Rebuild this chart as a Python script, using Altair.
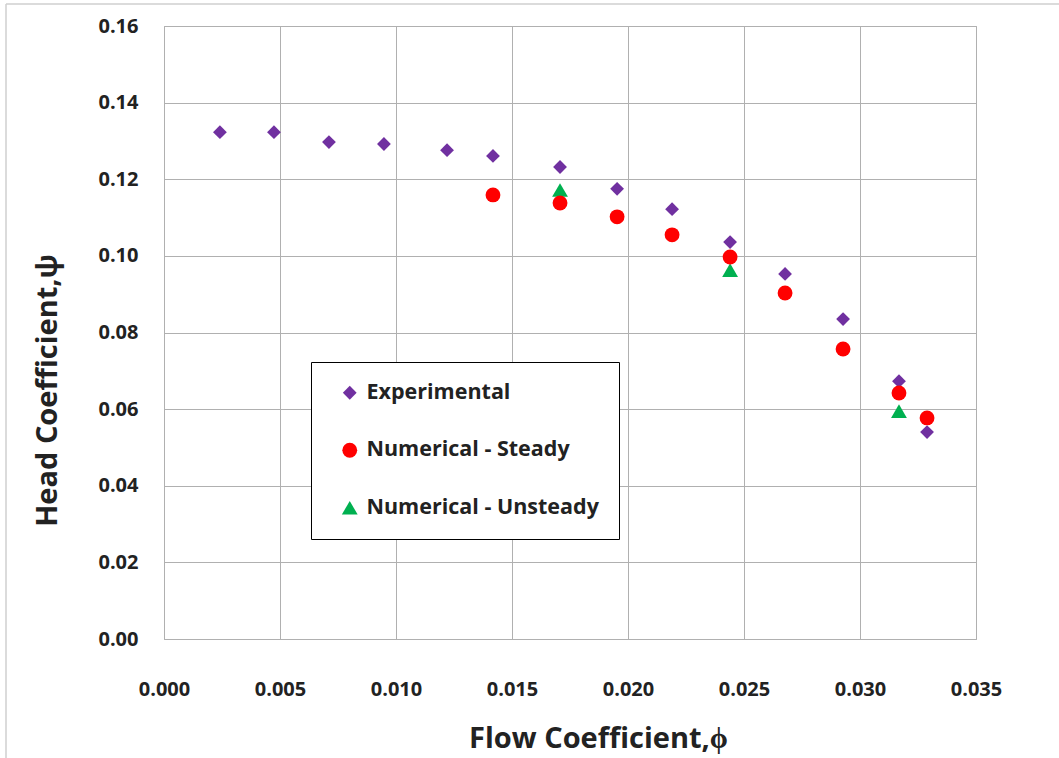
import altair as alt
import pandas as pd

# Experimental measurements
exp_phi = [0.00241, 0.00474, 0.00711, 0.00948, 0.0122, 0.01418, 0.01707,
           0.01953, 0.0219, 0.0244, 0.02677, 0.02927, 0.03168, 0.03289]
exp_psi = [0.1323, 0.1323, 0.1297, 0.1292, 0.1276, 0.1261, 0.1232,
           0.1175, 0.1122, 0.1036, 0.0953, 0.0835, 0.0673, 0.0540]

# Steady CFD results
steady_phi = [0.01418, 0.01707, 0.01953, 0.0219, 0.0244, 0.02677, 0.02927, 0.03168, 0.03289]
steady_psi = [0.1159, 0.1138, 0.1102, 0.1055, 0.0997, 0.0903, 0.0757, 0.0642, 0.0577]

# Unsteady CFD results
unsteady_phi = [0.01707, 0.0244, 0.03168]
unsteady_psi = [0.1172, 0.0963, 0.0595]

series = ["Experimental", "Numerical - Steady", "Numerical - Unsteady"]
colors = ["#7030A0", "#FF0000", "#00B050"]
shapes = ["diamond", "circle", "triangle-up"]
sizes = [190, 250, 230]

x_ticks = [0.000, 0.005, 0.010, 0.015, 0.020, 0.025, 0.030, 0.035]
y_ticks = [0.00, 0.02, 0.04, 0.06, 0.08, 0.10, 0.12, 0.14, 0.16]

# rows ordered so the steady circles are painted last
rows = (
    [{"phi": a, "psi": b, "series": series[0]} for a, b in zip(exp_phi, exp_psi)]
    + [{"phi": a, "psi": b, "series": series[2]} for a, b in zip(unsteady_phi, unsteady_psi)]
    + [{"phi": a, "psi": b, "series": series[1]} for a, b in zip(steady_phi, steady_psi)]
)
df = pd.DataFrame(rows)

FONT = "Open Sans"
TEXT = "#222222"
W, H = 812, 613

points = alt.Chart(df).mark_point(filled=True, opacity=1).encode(
    x=alt.X(
        "phi:Q",
        scale=alt.Scale(domain=[0, 0.035], nice=False, zero=False),
        axis=alt.Axis(
            values=x_ticks, format=".3f", title="Flow Coefficient,\u03d5",
            labelPadding=40, labelFlush=False, titleX=434, titleY=99,
            titleBaseline="middle",
        ),
    ),
    y=alt.Y(
        "psi:Q",
        scale=alt.Scale(domain=[0, 0.16], nice=False, zero=False),
        axis=alt.Axis(
            values=y_ticks, format=".2f", title="Head Coefficient,\u03c8",
            labelPadding=26, labelFlush=False, titleX=-117, titleY=364,
            titleBaseline="middle",
        ),
    ),
    color=alt.Color(
        "series:N",
        scale=alt.Scale(domain=series, range=colors),
        legend=alt.Legend(
            title=None, orient="none", legendX=147, legendY=336,
            padding=20, rowPadding=34.5, symbolOffset=8, labelOffset=6,
            strokeColor="#000000", fillColor="#ffffff",
            labelFont=FONT, labelFontSize=21.5, labelFontWeight="bold",
            labelColor=TEXT, symbolSize=110, labelLimit=400,
        ),
    ),
    shape=alt.Shape("series:N", scale=alt.Scale(domain=series, range=shapes)),
    size=alt.Size("series:N", scale=alt.Scale(domain=series, range=sizes), legend=None),
)

# light frame line along the top and left edges of the figure
frame = alt.Chart(pd.DataFrame({"k": [0]})).mark_rule(color="#cfcfcf", strokeWidth=1.5).encode(
    x=alt.value(-158), x2=alt.value(W + 90), y=alt.value(-22)
)
frame_left = alt.Chart(pd.DataFrame({"k": [0]})).mark_rule(color="#cfcfcf", strokeWidth=1.5).encode(
    x=alt.value(-158), y=alt.value(-22), y2=alt.value(H + 125)
)

chart = alt.layer(points, frame, frame_left).properties(
    width=W, height=H,
    autosize=alt.AutoSizeParams(type="none"),
    padding={"left": 164, "top": 26, "right": 1059 - 164 - W, "bottom": 758 - 26 - H},
    background="#ffffff",
).configure_view(
    stroke="#a6a6a6", strokeWidth=1, clip=False,
).configure_axis(
    grid=True, gridColor="#b0b0b0", gridWidth=1,
    domain=False, ticks=False,
    labelFont=FONT, labelFontSize=20, labelFontWeight="bold", labelColor=TEXT,
    titleFont=FONT, titleFontSize=29, titleFontWeight="bold", titleColor=TEXT,
)

chart.save("out.html", embed_options={"renderer": "svg", "actions": False})
